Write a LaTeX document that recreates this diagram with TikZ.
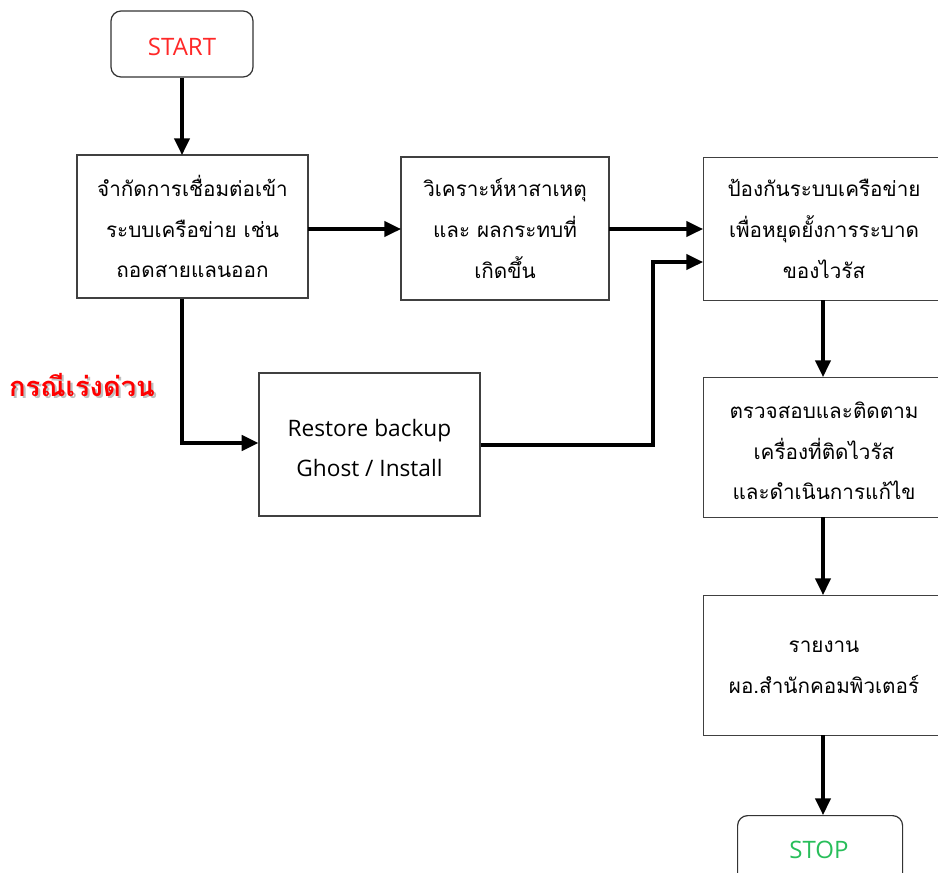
\documentclass[tikz,border=0pt]{standalone}
\usepackage{fontspec}
\usetikzlibrary{arrows.meta}
\newfontfamily\thaifont[Script=Thai]{Loma}
\newfontfamily\latinfont{Open Sans}
\definecolor{startred}{RGB}{255,40,40}
\definecolor{stopgreen}{RGB}{40,190,90}
\newcommand{\shadowtext}[1]{\rlap{\kern1.6pt\raisebox{-1.6pt}{\textcolor{black!25}{#1}}}\textcolor{red}{#1}}
\begin{document}
\begin{tikzpicture}[x=0.75pt,y=-0.75pt,
  procbox/.style={draw=black!75,line width=0.9pt,fill=white,inner sep=0pt},
  termbox/.style={draw=black!80,line width=0.9pt,rounded corners=7.5pt,fill=white,inner sep=0pt},
  boxtext/.style={font=\thaifont\fontsize{15.5pt}{30.5pt}\selectfont,align=center},
  flow/.style={line width=2.4pt,-{Triangle[length=12.5pt,width=11.5pt]}}
]
\useasboundingbox (0,0) rectangle (938,872);
\clip (0,0) rectangle (938,872);

% terminals
\node[termbox,minimum width=106.5pt,minimum height=49.5pt] (start) at (182,44) {};
\node[font=\latinfont\fontsize{18pt}{20pt}\selectfont,text=startred] at (182,47) {START};
\node[termbox,minimum width=123.75pt,minimum height=60pt,anchor=north west] (stop) at (737,815) {};
\node[font=\latinfont\fontsize{18pt}{20pt}\selectfont,text=stopgreen] at (819,850) {STOP};

% process boxes
\node[procbox,minimum width=173.25pt,minimum height=107.25pt] (limit) at (192.5,226.5) {};
\node[boxtext] at (limit) {จำกัดการเชื่อมต่อเข้า\\ระบบเครือข่าย เช่น\\ถอดสายแลนออก};

\node[procbox,minimum width=156pt,minimum height=107.25pt] (analyse) at (505,228.5) {};
\node[boxtext] at (analyse) {วิเคราะห์หาสาเหตุ\\และ ผลกระทบที่\\เกิดขึ้น};

\node[procbox,minimum width=186pt,minimum height=107.25pt,anchor=north west] (protect) at (703,157) {};
\node[boxtext] at (824,229) {ป้องกันระบบเครือข่าย\\เพื่อหยุดยั้งการระบาด\\ของไวรัส};

\node[procbox,minimum width=186pt,minimum height=105pt,anchor=north west] (inspect) at (703,377) {};
\node[boxtext] at (824,451) {ตรวจสอบและติดตาม\\เครื่องที่ติดไวรัส\\และดำเนินการแก้ไข};

\node[procbox,minimum width=186pt,minimum height=105pt,anchor=north west] (report) at (703,595) {};
\node[boxtext] at (824,667) {รายงาน\\ผอ.สำนักคอมพิวเตอร์};

\node[procbox,minimum width=165.75pt,minimum height=107.25pt] (restore) at (369.5,444.5) {};
\node[font=\latinfont\fontsize{17pt}{30pt}\selectfont,align=center] at (369.5,448) {Restore backup\\Ghost / Install};

% urgent-case label with a soft drop shadow
\node[font=\thaifont\bfseries\fontsize{20.5pt}{23pt}\selectfont] (urgent) at (82,386) {\shadowtext{กรณีเร่งด่วน}};

% connectors
\coordinate (cA) at (182,298);
\draw[flow] (start.south) -- (182,155);
\draw[flow] (308,229) -- (401,229);
\draw[flow] (609,229) -- (703,229);
\draw[flow] (limit.south -| cA) -- (182,443) -- (restore.west |- 0,443);
\draw[flow] (restore.east |- 0,445) -- (653,445) -- (653,262) -- (703,262);
\draw[flow] (823,300) -- (823,377);
\draw[flow] (823,517) -- (823,595);
\draw[flow] (823,735) -- (823,815);
\end{tikzpicture}
\end{document}
